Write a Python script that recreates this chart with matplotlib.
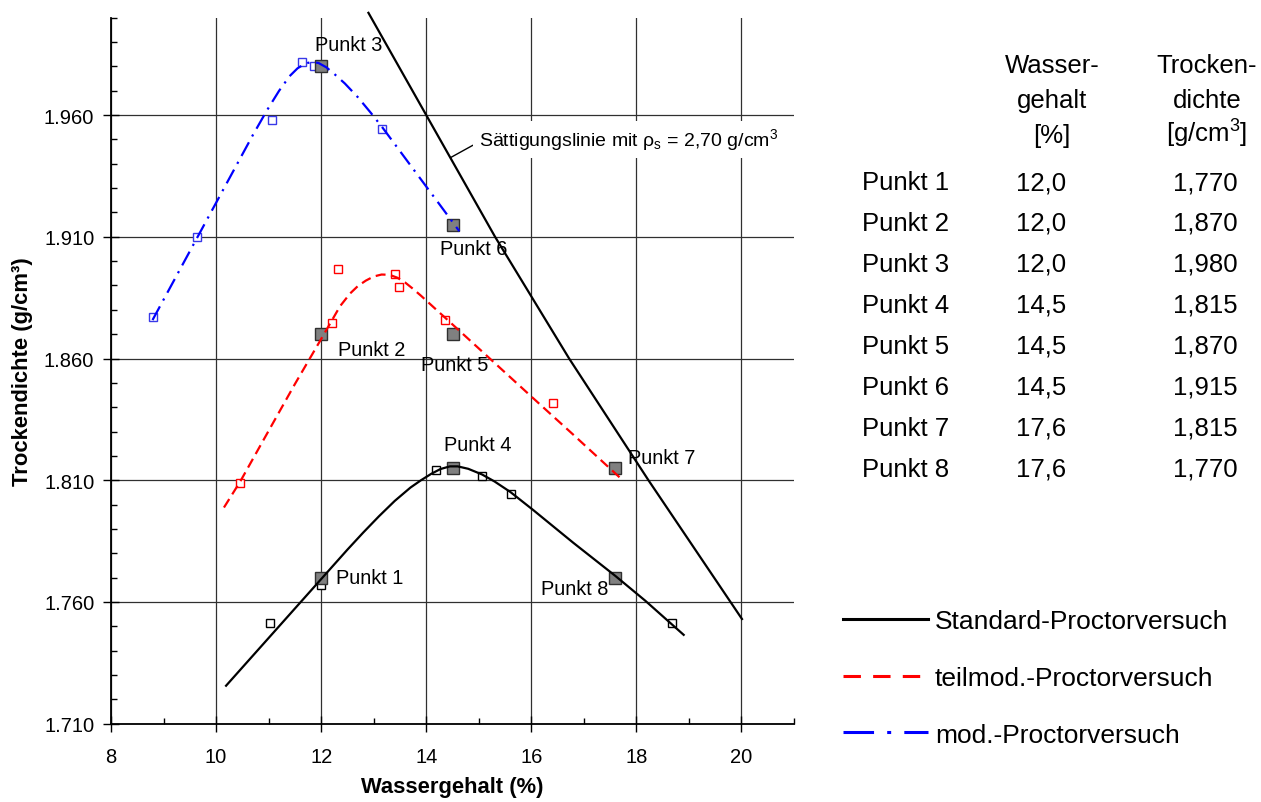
import matplotlib.pyplot as plt
from matplotlib.ticker import MultipleLocator, FormatStrFormatter

plt.rcParams['font.family'] = ['Liberation Sans', 'DejaVu Sans']
plt.rcParams['mathtext.fontset'] = 'custom'
plt.rcParams['mathtext.rm'] = 'Liberation Sans'
plt.rcParams['mathtext.it'] = 'Liberation Sans:italic'
plt.rcParams['mathtext.bf'] = 'Liberation Sans:bold'

# Punkte aus der Tabelle
punkt_namen = ["Punkt 1", "Punkt 2", "Punkt 3", "Punkt 4",
               "Punkt 5", "Punkt 6", "Punkt 7", "Punkt 8"]
punkt_w = [12.0, 12.0, 12.0, 14.5, 14.5, 14.5, 17.6, 17.6]
punkt_rho = [1.770, 1.870, 1.980, 1.815, 1.870, 1.915, 1.815, 1.770]

# Standard-Proctorversuch
std_w = [10.19, 11.0, 11.5, 12.0, 12.5, 12.8, 13.1, 13.4, 13.7, 13.9, 14.1, 14.27,
         14.45, 14.6, 14.8, 15.06, 15.3, 15.6, 16.04, 16.8, 17.6, 18.17, 18.9]
std_rho = [1.7256, 1.7452, 1.7573, 1.7694, 1.7815, 1.7885, 1.7952, 1.8015, 1.8070, 1.8100, 1.8127, 1.8146,
           1.8157, 1.8157, 1.8147, 1.8124, 1.8095, 1.8052, 1.7977, 1.7843, 1.7707, 1.7605, 1.7465]
std_mess_w = [11.03, 12.0, 14.18, 15.06, 15.61, 18.67]
std_mess_rho = [1.7514, 1.7668, 1.8144, 1.8118, 1.8045, 1.7513]

# teilmod.-Proctorversuch
tm_w = [10.15, 10.46, 11.0, 11.5, 12.04, 12.36, 12.55, 12.7, 12.85, 13.0, 13.15,
        13.3, 13.45, 13.6, 13.75, 13.9, 14.5, 15.2, 16.0, 16.8, 17.7]
tm_rho = [1.7988, 1.8095, 1.8303, 1.8495, 1.8695, 1.8815, 1.8867, 1.8898, 1.8920, 1.8937, 1.8945,
          1.8944, 1.8932, 1.8912, 1.8886, 1.8858, 1.8740, 1.8602, 1.8444, 1.8287, 1.8108]
tm_mess_w = [10.46, 12.2, 12.33, 13.41, 13.49, 14.35, 16.42]
tm_mess_rho = [1.8088, 1.8744, 1.8967, 1.8946, 1.8895, 1.876, 1.8418]

# mod.-Proctorversuch
mod_w = [8.79, 9.3, 9.8, 10.3, 10.7, 10.97, 11.2, 11.4, 11.55, 11.7, 11.82, 11.95,
         12.1, 12.25, 12.45, 12.7, 12.95, 13.17, 13.5, 13.85, 14.25, 14.63]
mod_rho = [1.8758, 1.8961, 1.9160, 1.9359, 1.9518, 1.9620, 1.9700, 1.9760, 1.9792, 1.9812, 1.9818, 1.9814,
           1.9796, 1.9769, 1.9730, 1.9673, 1.9608, 1.9548, 1.9452, 1.9350, 1.9234, 1.9123]
mod_mess_w = [8.8, 9.64, 11.07, 11.63, 11.87, 13.16]
mod_mess_rho = [1.877, 1.910, 1.958, 1.982, 1.980, 1.9544]

# Sättigungslinie
sat_w = [12.9, 14.0, 15.31, 16.72, 18.23, 20.01]
sat_rho = [2.002, 1.960, 1.910, 1.860, 1.810, 1.753]

y_ticks = [1.710, 1.760, 1.810, 1.860, 1.910, 1.960]
x_ticks = [8, 10, 12, 14, 16, 18, 20]

legend_labels = ["Standard-Proctorversuch", "teilmod.-Proctorversuch", "mod.-Proctorversuch"]

W, H = 1261, 803
fig = plt.figure(figsize=(W / 100, H / 100), dpi=100)
ax = fig.add_axes([111 / W, 1 - 724.7 / H, (794 - 111) / W, (724.7 - 18.7) / H])

ax.plot(sat_w, sat_rho, color="black", lw=1.6, zorder=4, clip_on=False)
ax.plot(std_w, std_rho, color="black", lw=1.6, zorder=4)
ax.plot(tm_w, tm_rho, color="#ff0000", lw=1.6, dashes=(4.5, 2.5), zorder=4)
ax.plot(mod_w, mod_rho, color="#0000ff", lw=1.6, dashes=(7, 3, 1, 3), zorder=4)

ax.plot(std_mess_w, std_mess_rho, ls="none", marker="s", ms=6, mfc="white",
        mec="black", mew=1, zorder=3)
ax.plot(tm_mess_w, tm_mess_rho, ls="none", marker="s", ms=6, mfc="white",
        mec="#ff0000", mew=1, zorder=3)
ax.plot(mod_mess_w, mod_mess_rho, ls="none", marker="s", ms=6, mfc="white",
        mec="#3838e8", mew=1, zorder=3)
ax.plot(punkt_w, punkt_rho, ls="none", marker="s", ms=9, mfc="#808080",
        mec="#303030", mew=1, zorder=3)

# Beschriftung der Punkte (Versatz in Pixeln)
offsets = [(15, 0, "left"), (17, 15, "left"), (-6, -22, "left"), (-9, -24, "left"),
           (-32, 30, "left"), (-13, 24, "left"), (13, -11, "left"), (-7, 11, "right")]
for name, w, rho, (dx, dy, ha) in zip(punkt_namen, punkt_w, punkt_rho, offsets):
    ax.annotate(name, (w, rho), xytext=(dx, -dy), textcoords="offset pixels",
                ha=ha, va="center", fontsize=14.4, zorder=5)

ax.annotate(r"Sättigungslinie mit $\mathrm{\rho}_\mathrm{s}$ = 2,70 g/cm$^3$",
            xy=(14.46, 1.9425), xytext=(15.0, 1.950), ha="left", va="center",
            fontsize=14, zorder=5,
            bbox=dict(boxstyle="square,pad=0.3", fc="white", ec="none"),
            arrowprops=dict(arrowstyle="-", color="black", lw=1,
                            shrinkA=0, shrinkB=0, relpos=(0, 0.4)))

ax.set_xlim(8, 21)
ax.set_ylim(1.71, 2.0)
ax.set_xticks(x_ticks)
ax.set_yticks(y_ticks)
ax.xaxis.set_minor_locator(MultipleLocator(1))
ax.yaxis.set_minor_locator(MultipleLocator(0.01))
ax.yaxis.set_major_formatter(FormatStrFormatter("%.3f"))
ax.tick_params(which="major", direction="inout", length=12, width=1, labelsize=14.5)
ax.tick_params(axis="y", which="major", pad=6)
ax.tick_params(axis="x", which="major", pad=11)
ax.tick_params(which="minor", direction="in", length=4, width=1)
ax.grid(True, which="major", color="#303030", lw=0.9)
ax.set_axisbelow(True)
for side in ["top", "right"]:
    ax.spines[side].set_visible(False)
for side in ["left", "bottom"]:
    ax.spines[side].set_linewidth(1.3)

ax.set_xlabel("Wassergehalt (%)", fontsize=15.8, fontweight="bold", labelpad=7)
ax.set_ylabel("Trockendichte (g/cm³)", fontsize=15.8, fontweight="bold", labelpad=8)

# Tabelle und Legende rechts (Pixelkoordinaten)
ov = fig.add_axes([0, 0, 1, 1])
ov.set_xlim(0, W)
ov.set_ylim(H, 0)
ov.axis("off")

tfs = 18.5
for txt, yb in zip(["Wasser-", "gehalt", "[%]"], [73, 108, 143]):
    ov.text(1052, yb, txt, ha="center", va="baseline", fontsize=tfs)
for txt, yb in zip(["Trocken-", "dichte", "[g/cm$^3$]"], [73, 108, 143]):
    ov.text(1207, yb, txt, ha="center", va="baseline", fontsize=tfs)
for i, (name, w, rho) in enumerate(zip(punkt_namen, punkt_w, punkt_rho)):
    yb = 190 + i * 41
    ov.text(862, yb, name, ha="left", va="baseline", fontsize=tfs)
    ov.text(1041, yb, f"{w:.1f}".replace(".", ","), ha="center", va="baseline", fontsize=tfs)
    ov.text(1205, yb, f"{rho:.3f}".replace(".", ","), ha="center", va="baseline", fontsize=tfs)

leg_styles = [dict(color="black"), dict(color="#ff0000", dashes=(5.7, 4)),
              dict(color="#0000ff", dashes=(10, 4.3, 1.3, 4.3))]
for i, (label, st) in enumerate(zip(legend_labels, leg_styles)):
    yc = 620 + i * 56.7
    ov.plot([843, 928], [yc, yc], lw=2.2, **st)
    ov.text(935, yc + 9.5, label, ha="left", va="baseline", fontsize=19)

fig.savefig("out.png", dpi=100)
